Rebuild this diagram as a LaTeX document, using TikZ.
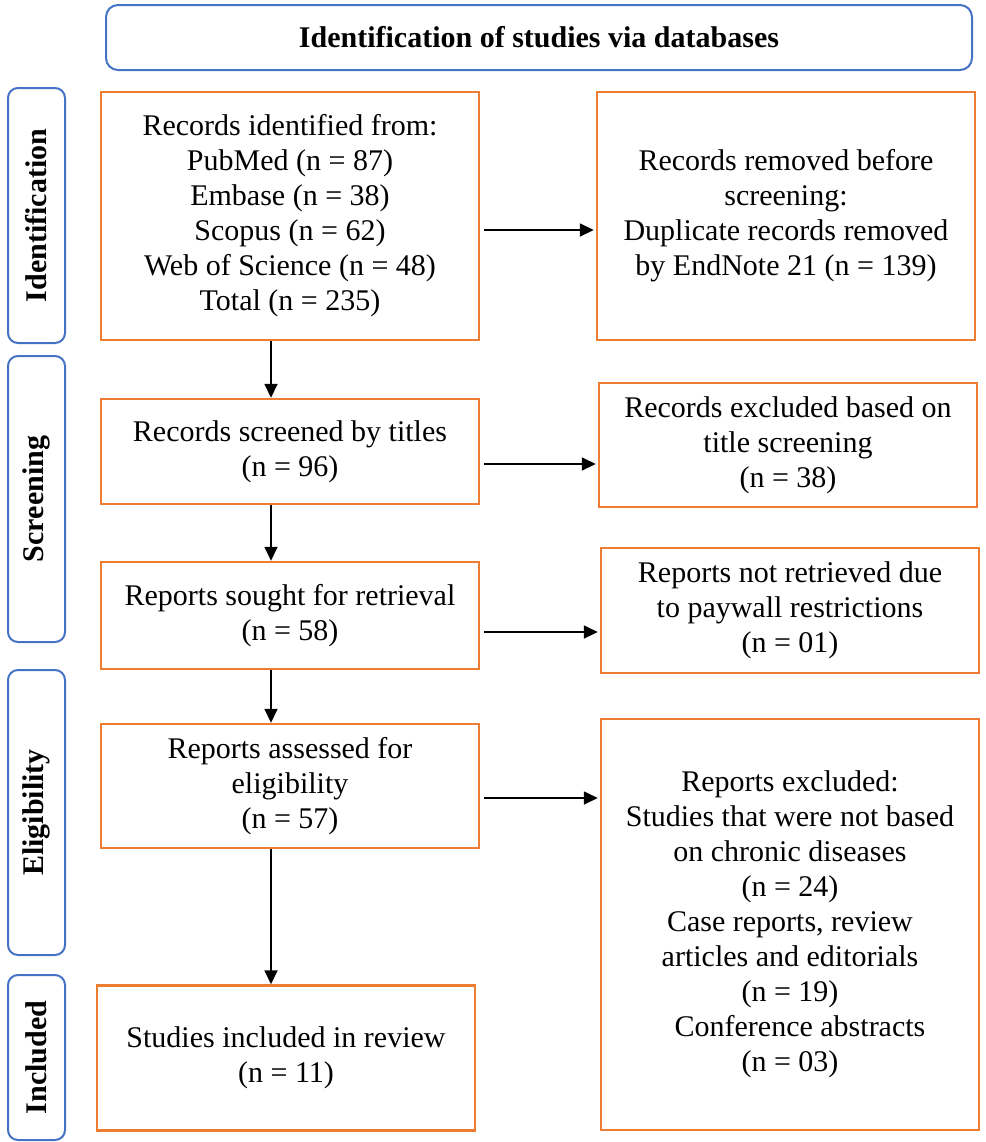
\documentclass[tikz,border=0pt]{standalone}
\usepackage{fontspec}
\setmainfont{Liberation Serif}
\usepackage{xcolor}
\usetikzlibrary{arrows.meta,positioning}
\definecolor{prismaorange}{HTML}{ED7D31}
\definecolor{prismablue}{HTML}{4472C4}

\begin{document}
\begin{tikzpicture}[
      x=0.5pt, y=-0.5pt,
      box/.style={rectangle, draw=prismaorange, line width=1.2pt,
                  align=center, inner sep=3pt, minimum width=189pt,
                  font=\fontsize{15}{17.5}\selectfont},
      head/.style={rectangle, rounded corners=6pt, draw=prismablue, line width=1pt,
                  align=center, minimum width=433pt, minimum height=32.5pt,
                  font=\fontsize{15}{17.5}\selectfont\bfseries},
      phase/.style={rectangle, rounded corners=5pt, draw=prismablue, line width=1pt,
                  rotate=90, minimum height=28.5pt, inner sep=2pt,
                  font=\fontsize{15}{17.5}\selectfont\bfseries},
      arr/.style={-{Triangle[length=7pt, width=6.5pt]}, line width=0.8pt}
    ]
    \useasboundingbox (0,0) rectangle (986,1142);
    % header and phase labels
    \node[head] (head) at (539,37.5) {Identification of studies via databases};
    \node[phase, minimum width=127.5pt] (pid) at (36.5,215.5) {Identification};
    \node[phase, minimum width=143pt] (pscr) at (36.5,499) {Screening};
    \node[phase, minimum width=142.5pt] (pelig) at (36.5,812.5) {Eligibility};
    \node[phase, minimum width=82.5pt] (pincl) at (36.5,1057.5) {Included};
    % main column
    \node[box, minimum height=124pt] (rec) at (290,216)
      {Records identified from:\\PubMed (n = 87)\\Embase (n = 38)\\Scopus (n = 62)\\Web of Science (n = 48)\\Total (n = 235)};
    \node[box, minimum height=52.5pt] (scr) at (290,451.5) {Records screened by titles\\(n = 96)};
    \node[box, minimum height=53.5pt] (sought) at (290,615.5) {Reports sought for retrieval\\(n = 58)};
    \node[box, minimum height=62pt] (assess) at (290,786) {Reports assessed for\\eligibility\\(n = 57)};
    \node[box, minimum height=72.5pt] (incl) at (286,1058) {Studies included in review\\(n = 11)};
    % exclusion column
    \node[box, minimum height=124pt] (dup) at (786,216)
      {Records removed before\\screening:\\Duplicate records removed\\by EndNote 21 (n = 139)};
    \node[box, minimum height=62pt] (titleex) at (788,445) {Records excluded based on\\title screening\\(n = 38)};
    \node[box, minimum height=62.5pt] (notret) at (790,610.5) {Reports not retrieved due\\to paywall restrictions\\(n = 01)};
    \node[box, minimum height=205.5pt] (repex) at (790,924.5)
      {Reports excluded:\\Studies that were not based\\on chronic diseases\\(n = 24)\\Case reports, review\\articles and editorials\\(n = 19)\\\hspace*{10pt}Conference abstracts\\(n = 03)};
    % arrows
    \coordinate (ax) at (271,0);
    \coordinate (r1) at (0,230);
    \coordinate (r2) at (0,464);
    \coordinate (r3) at (0,632);
    \coordinate (r4) at (0,798);
    \draw[arr] (rec.south -| ax) -- (scr.north -| ax);
    \draw[arr] (scr.south -| ax) -- (sought.north -| ax);
    \draw[arr] (sought.south -| ax) -- (assess.north -| ax);
    \draw[arr] (assess.south -| ax) -- (incl.north -| ax);
    \draw[arr, shorten <=2pt, shorten >=1pt] (rec.east |- r1) -- (dup.west |- r1);
    \draw[arr, shorten <=2pt, shorten >=1pt] (scr.east |- r2) -- (titleex.west |- r2);
    \draw[arr, shorten <=2pt, shorten >=1pt] (sought.east |- r3) -- (notret.west |- r3);
    \draw[arr, shorten <=2pt, shorten >=1pt] (assess.east |- r4) -- (repex.west |- r4);
  \end{tikzpicture}
\end{document}
